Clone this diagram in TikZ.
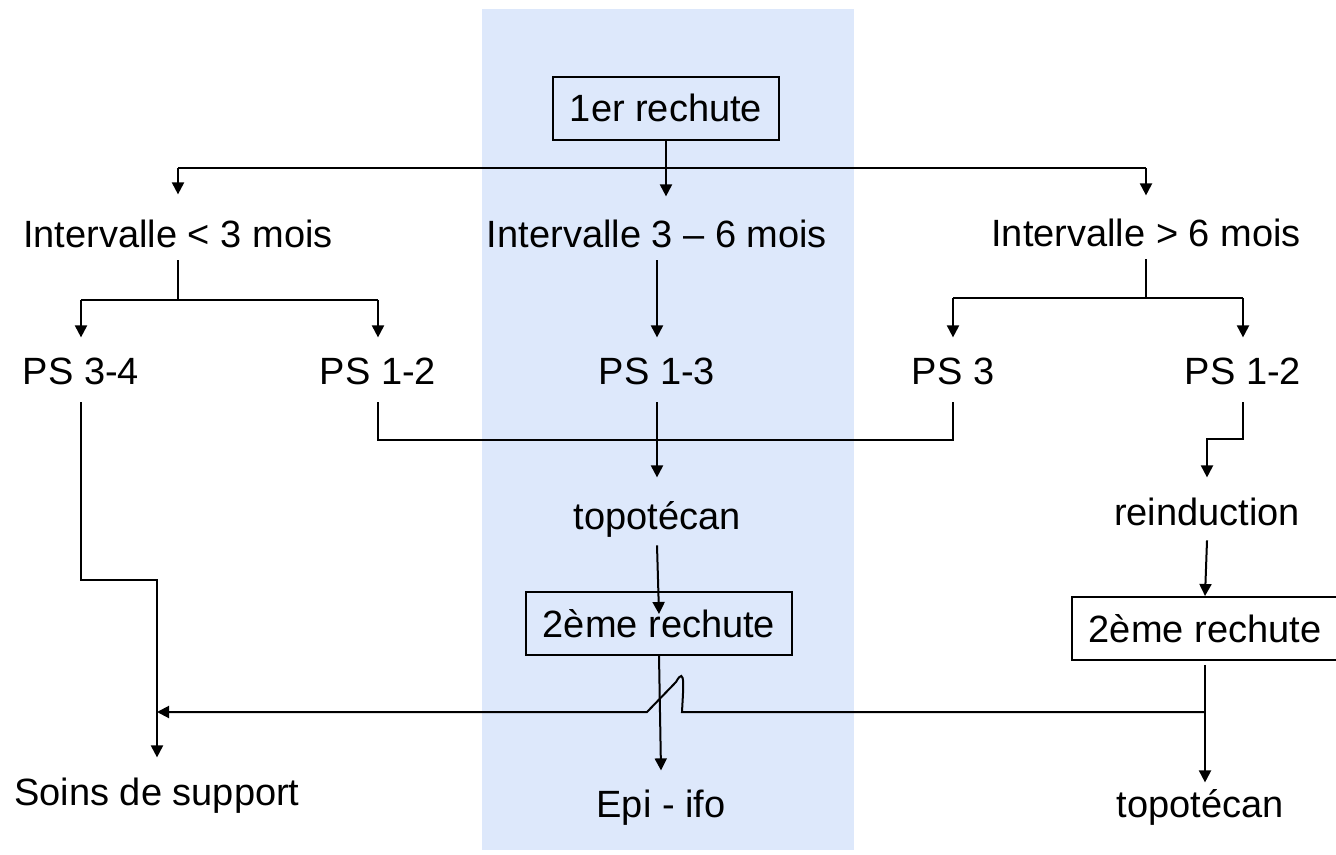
\documentclass[tikz,border=0pt]{standalone}
\usepackage{fontspec}
\setmainfont{Liberation Sans}
\usetikzlibrary{arrows.meta}
\definecolor{panel}{HTML}{DDE8FB}
\begin{document}
\begin{tikzpicture}[x=0.5pt,y=-0.5pt,
  lbl/.style={font=\fontsize{19}{23}\selectfont, inner sep=0pt, text height=13.6pt, text depth=0pt, anchor=base},
  boxed/.style={lbl, draw, line width=0.8pt, inner xsep=8.5pt, inner ysep=9pt},
  conn/.style={line width=1pt},
  arr/.style={conn, -{Triangle[length=6pt,width=6pt]}},
  ]
\useasboundingbox (0,0) rectangle (1336,855);
\fill[panel] (482,9) rectangle (854,850);

% nodes
\node[boxed] (r1) at (666,122) {1er rechute};
\node[lbl] (i1) at (178,248) {Intervalle < 3 mois};
\node[lbl] (i2) at (657,248) {Intervalle 3 – 6 mois};
\node[lbl] (i3) at (1146,247) {Intervalle > 6 mois};
\node[lbl] (ps34) at (81,384) {PS 3-4};
\node[lbl] (ps12a) at (378,384) {PS 1-2};
\node[lbl] (ps13) at (657,384) {PS 1-3};
\node[lbl] (ps3) at (953,384) {PS 3};
\node[lbl] (ps12b) at (1243,384) {PS 1-2};
\node[lbl] (topo1) at (657,529) {topotécan};
\node[lbl] (reind) at (1207,525) {reinduction};
\node[boxed] (r2a) at (659,637) {2ème rechute};
\node[boxed] (r2b) at (1205,642) {2ème rechute};
\node[lbl] (soins) at (157,805) {Soins de support};
\node[lbl] (epi) at (661,817) {Epi - ifo};
\node[lbl] (topo2) at (1200,817) {topotécan};

% helper coordinates
\coordinate (t2) at ([yshift=12pt]i2.north);
\coordinate (t5) at ([yshift=3.5pt]topo2.north);

% first level
\draw[conn] (i1.north |- 0,168) -- (i3.north |- 0,168);
\draw[arr] (r1.south) -- (r1.south |- t2);
\draw[arr] (i1.north |- 0,168) -- ([yshift=13pt]i1.north);
\draw[arr] (i3.north |- 0,168) -- ([yshift=12pt]i3.north);

% left branch
\draw[conn] ([yshift=-6pt]i1.south) -- (i1.south |- 0,300);
\draw[conn] (ps34.north |- 0,300) -- (ps12a.north |- 0,300);
\draw[arr] (ps34.north |- 0,300) -- ([yshift=9.5pt]ps34.north);
\draw[arr] (ps12a.north |- 0,300) -- ([yshift=9.5pt]ps12a.north);

% middle
\draw[arr] ([yshift=-6pt]i2.south) -- ([yshift=9.5pt]ps13.north);

% right branch
\draw[conn] ([yshift=-6pt]i3.south) -- (i3.south |- 0,298);
\draw[conn] (ps3.north |- 0,298) -- (ps12b.north |- 0,298);
\draw[arr] (ps3.north |- 0,298) -- ([yshift=9.5pt]ps3.north);
\draw[arr] (ps12b.north |- 0,298) -- ([yshift=9.5pt]ps12b.north);

% merge to topotecan
\draw[conn] ([yshift=-9pt]ps12a.south) -- (ps12a.south |- 0,440) -- (ps3.south |- 0,440) -- ([yshift=-9pt]ps3.south);
\draw[arr] ([yshift=-9pt]ps13.south) -- ([yshift=12pt]topo1.north);
\draw[arr] ([yshift=-8pt]topo1.south) -- ([yshift=-11.5pt]r2a.north);
\draw[arr] (r2a.south) -- ([yshift=9.5pt]epi.north);

% right column
\draw[arr] ([yshift=-9pt]ps12b.south) -- (ps12b.south |- 0,439) -- (reind.north |- 0,439) -- ([yshift=10pt]reind.north);
\draw[arr] ([yshift=-7.5pt]reind.south) -- (r2b.north);
\draw[arr] ([yshift=-2pt]r2b.south) -- (r2b.south |- t5);

% long horizontal with jump
\draw[arr] (r2b.south |- 0,712) -- (682,712) .. controls (683,690) and (686,664) .. (676,682) -- (647,712) -- (soins.north |- 0,712);

% left column to soins
\draw[arr] ([yshift=-9pt]ps34.south) -- (ps34.south |- 0,580) -- (soins.north |- 0,580) -- ([yshift=10pt]soins.north);
\end{tikzpicture}
\end{document}
